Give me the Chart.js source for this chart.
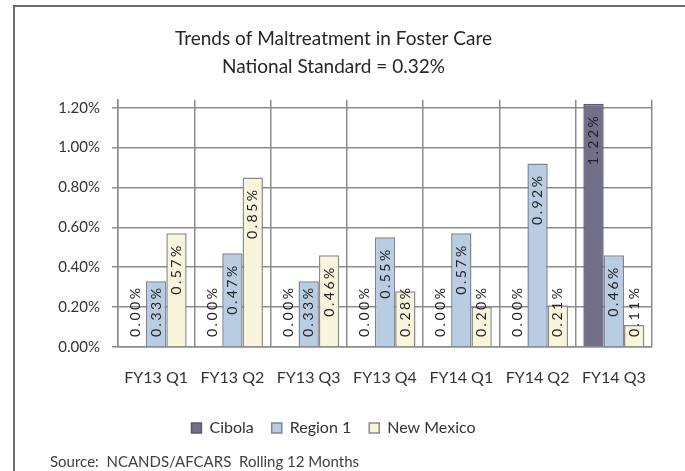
<!DOCTYPE html>
<html>
<head>
<meta charset="utf-8">
<script src="https://cdn.jsdelivr.net/npm/chart.js@4"></script>
<style>
  body { margin: 0; background: #fff; }
  #wrap { position: relative; width: 685px; height: 471px; overflow: hidden; }
  #frame { position: absolute; left: 13px; top: 5px; width: 720px; height: 520px;
           border-left: 2px solid #6b6b6b; border-top: 2px solid #6b6b6b; }
  #chart { position: absolute; left: 0; top: 0; }
  #source { position: absolute; left: 50px; top: 452px; font: 15px Lato, sans-serif; color: #404040; white-space: pre; }
</style>
</head>
<body>
<div id="wrap">
  <div id="frame"></div>
  <canvas id="chart" width="685" height="471"></canvas>
  <div id="source">Source:  NCANDS/AFCARS  Rolling 12 Months</div>
</div>
<script>
// data (percent)
const quarters = ["FY13 Q1", "FY13 Q2", "FY13 Q3", "FY13 Q4", "FY14 Q1", "FY14 Q2", "FY14 Q3"];
const cibola = [0, 0, 0, 0, 0, 0, 1.22];
const region1 = [0.33, 0.47, 0.33, 0.55, 0.57, 0.92, 0.46];
const newMexico = [0.57, 0.85, 0.46, 0.28, 0.20, 0.21, 0.11];
const yStep = 0.2;

const gridColor = "#8c8c8c";
const textColor = "#333333";

// rotated value labels, Excel "inside end" style, pushed up from the base when the bar is short
const barLabels = {
  id: "barLabels",
  afterDatasetsDraw(chart) {
    const ctx = chart.ctx;
    const base = chart.scales.y.getPixelForValue(0);
    ctx.save();
    ctx.font = "14px Lato";
    ctx.letterSpacing = "2.5px";
    ctx.fillStyle = "#222222";
    ctx.textAlign = "right";
    ctx.textBaseline = "middle";
    chart.data.datasets.forEach((ds, i) => {
      chart.getDatasetMeta(i).data.forEach((bar, j) => {
        const text = ds.data[j].toFixed(2) + "%";
        const len = ctx.measureText(text).width;
        const top = Math.min(bar.y + 10, base - 10 - len);
        ctx.save();
        ctx.translate(bar.x, top);
        ctx.rotate(-Math.PI / 2);
        ctx.fillText(text, 0, 0);
        ctx.restore();
      });
    });
    ctx.restore();
  },
};

new Chart(document.getElementById("chart"), {
  type: "bar",
  data: {
    labels: quarters,
    datasets: [
      { label: "Cibola", data: cibola, backgroundColor: "#727088", borderColor: "#5c5a6e", borderWidth: 1.5 },
      { label: "Region 1", data: region1, backgroundColor: "#b9cde2", borderColor: "#7d8494", borderWidth: 1.5 },
      { label: "New Mexico", data: newMexico, backgroundColor: "#f9f5dc", borderColor: "#8a8a8a", borderWidth: 1.5 },
    ],
  },
  options: {
    responsive: false,
    animation: false,
    datasets: { bar: { categoryPercentage: 0.8, barPercentage: 1 } },
    layout: { padding: { left: 15, right: 33, top: 0, bottom: 25 } },
    plugins: {
      title: {
        display: true,
        text: ["Trends of Maltreatment in Foster Care", "National Standard = 0.32%"],
        color: "#262626",
        font: { family: "Lato", size: 19, weight: "normal", lineHeight: 1.52 },
        padding: { top: 24, bottom: 18 },
      },
      legend: {
        position: "bottom",
        labels: {
          boxWidth: 10,
          boxHeight: 10,
          padding: 18,
          color: textColor,
          font: { family: "Lato", size: 16 },
        },
      },
      tooltip: { enabled: false },
    },
    scales: {
      x: {
        afterFit: (s) => { s.height = 55; },
        grid: { color: gridColor, lineWidth: 1.5, drawTicks: false, offset: true },
        border: { color: gridColor, width: 1.5 },
        ticks: { color: textColor, padding: 21, font: { family: "Lato", size: 16 } },
      },
      y: {
        min: 0,
        max: 1.24,
        afterFit: (s) => { s.width = 103; },
        grid: { color: gridColor, lineWidth: 1.5, tickLength: 6 },
        border: { color: gridColor, width: 1.5 },
        ticks: {
          stepSize: yStep,
          includeBounds: false,
          padding: 12,
          color: textColor,
          font: { family: "Lato", size: 15 },
          callback: (v) => v.toFixed(2) + "%",
        },
      },
    },
  },
  plugins: [barLabels],
});
</script>
</body>
</html>
